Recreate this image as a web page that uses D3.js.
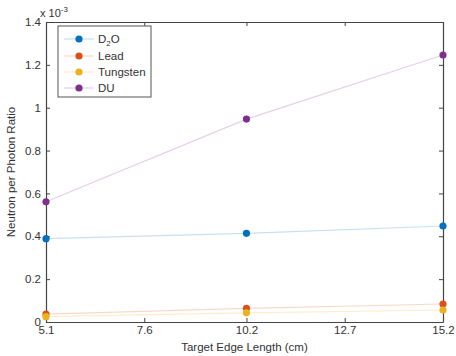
<!DOCTYPE html>
<html>
<head>
<meta charset="utf-8">
<script src="https://cdn.jsdelivr.net/npm/d3@7"></script>
<style>
  body { margin: 0; background: #fff; }
  text { font-family: "Liberation Sans", Arial, sans-serif; fill: #333; }
</style>
</head>
<body>
<svg id="chart" width="456" height="356"></svg>
<script>
// ── data (y in units of 1e-3) ──
const edgeLengths = [5.1, 10.2, 15.2];
const xTicks = [5.1, 7.6, 10.2, 12.7, 15.2];
const yTicks = [0, 0.2, 0.4, 0.6, 0.8, 1, 1.2, 1.4];
const seriesNames = ['D2O', 'Lead', 'Tungsten', 'DU'];
const seriesColors = ['#0072BD', '#D95319', '#EDB120', '#7E2F8E'];
const d2oVals = [0.389, 0.414, 0.448];
const leadVals = [0.037, 0.064, 0.084];
const tungstenVals = [0.025, 0.043, 0.056];
const duVals = [0.561, 0.947, 1.246];
const allVals = [d2oVals, leadVals, tungstenVals, duVals];

const svg = d3.select('#chart');
const m = { l: 46, r: 443, t: 22, b: 322 };

const x = d3.scaleLinear().domain([5.1, 15.2]).range([m.l, m.r]);
const y = d3.scaleLinear().domain([0, 1.4]).range([m.b, m.t]);

// axes, MATLAB style: ticks inward, box on
const axColor = '#444';
const fmtY = d => d === 0 ? '0' : d3.format('.1f')(d).replace(/\.0$/, '');

const gB = svg.append('g').attr('transform', `translate(0,${m.b})`)
  .call(d3.axisBottom(x).tickValues(xTicks).tickSizeInner(-4).tickSizeOuter(0).tickPadding(4).tickFormat(d3.format('.1f')));
const gT = svg.append('g').attr('transform', `translate(0,${m.t})`)
  .call(d3.axisTop(x).tickValues(xTicks).tickSizeInner(-4).tickSizeOuter(0).tickFormat(''));
const gL = svg.append('g').attr('transform', `translate(${m.l},0)`)
  .call(d3.axisLeft(y).tickValues(yTicks).tickSizeInner(-4).tickSizeOuter(0).tickPadding(5).tickFormat(fmtY));
const gR = svg.append('g').attr('transform', `translate(${m.r},0)`)
  .call(d3.axisRight(y).tickValues(yTicks).tickSizeInner(-4).tickSizeOuter(0).tickFormat(''));

[gB, gT, gL, gR].forEach(g => {
  g.select('.domain').attr('stroke', axColor).attr('stroke-width', 1.2);
  g.selectAll('.tick line').attr('stroke', axColor);
  g.selectAll('.tick text').attr('font-size', 11.5).attr('fill', '#333')
    .style('font-family', '"Liberation Sans", Arial, sans-serif');
});

// exponent
const exp = svg.append('text').attr('x', 40).attr('y', 17).attr('font-size', 11);
exp.append('tspan').text('x 10');
exp.append('tspan').attr('dy', -5).attr('font-size', 8).text('-3');

// axis labels
svg.append('text').attr('x', (m.l + m.r) / 2).attr('y', 351)
  .attr('text-anchor', 'middle').attr('font-size', 11.5).text('Target Edge Length (cm)');
svg.append('text').attr('transform', `translate(15,${(m.t + m.b) / 2}) rotate(-90)`)
  .attr('text-anchor', 'middle').attr('font-size', 11.5).text('Neutron per Photon Ratio');

// series
const line = d3.line().x((d, i) => x(edgeLengths[i])).y(d => y(d));
allVals.forEach((vals, k) => {
  const g = svg.append('g');
  g.append('path').datum(vals).attr('d', line)
    .attr('fill', 'none').attr('stroke', seriesColors[k])
    .attr('stroke-opacity', 0.22).attr('stroke-width', 1.2);
  g.selectAll('circle').data(vals).join('circle')
    .attr('cx', (d, i) => x(edgeLengths[i])).attr('cy', d => y(d))
    .attr('r', 3.6).attr('fill', seriesColors[k]);
});

// legend
const lg = svg.append('g');
lg.append('rect').attr('x', 58).attr('y', 26).attr('width', 93).attr('height', 71)
  .attr('fill', '#fff').attr('stroke', '#555').attr('stroke-width', 1);
const rowY = [39, 56, 72, 88];
seriesNames.forEach((n, k) => {
  lg.append('line').attr('x1', 64).attr('x2', 94).attr('y1', rowY[k]).attr('y2', rowY[k])
    .attr('stroke', seriesColors[k]).attr('stroke-opacity', 0.22).attr('stroke-width', 1.2);
  lg.append('circle').attr('cx', 79).attr('cy', rowY[k]).attr('r', 3.6).attr('fill', seriesColors[k]);
  const t = lg.append('text').attr('x', 98).attr('y', rowY[k] + 4).attr('font-size', 11.5);
  if (n === 'D2O') {
    t.append('tspan').text('D');
    t.append('tspan').attr('dy', 3).attr('font-size', 8).text('2');
    t.append('tspan').attr('dy', -3).text('O');
  } else {
    t.text(n);
  }
});
</script>
</body>
</html>
